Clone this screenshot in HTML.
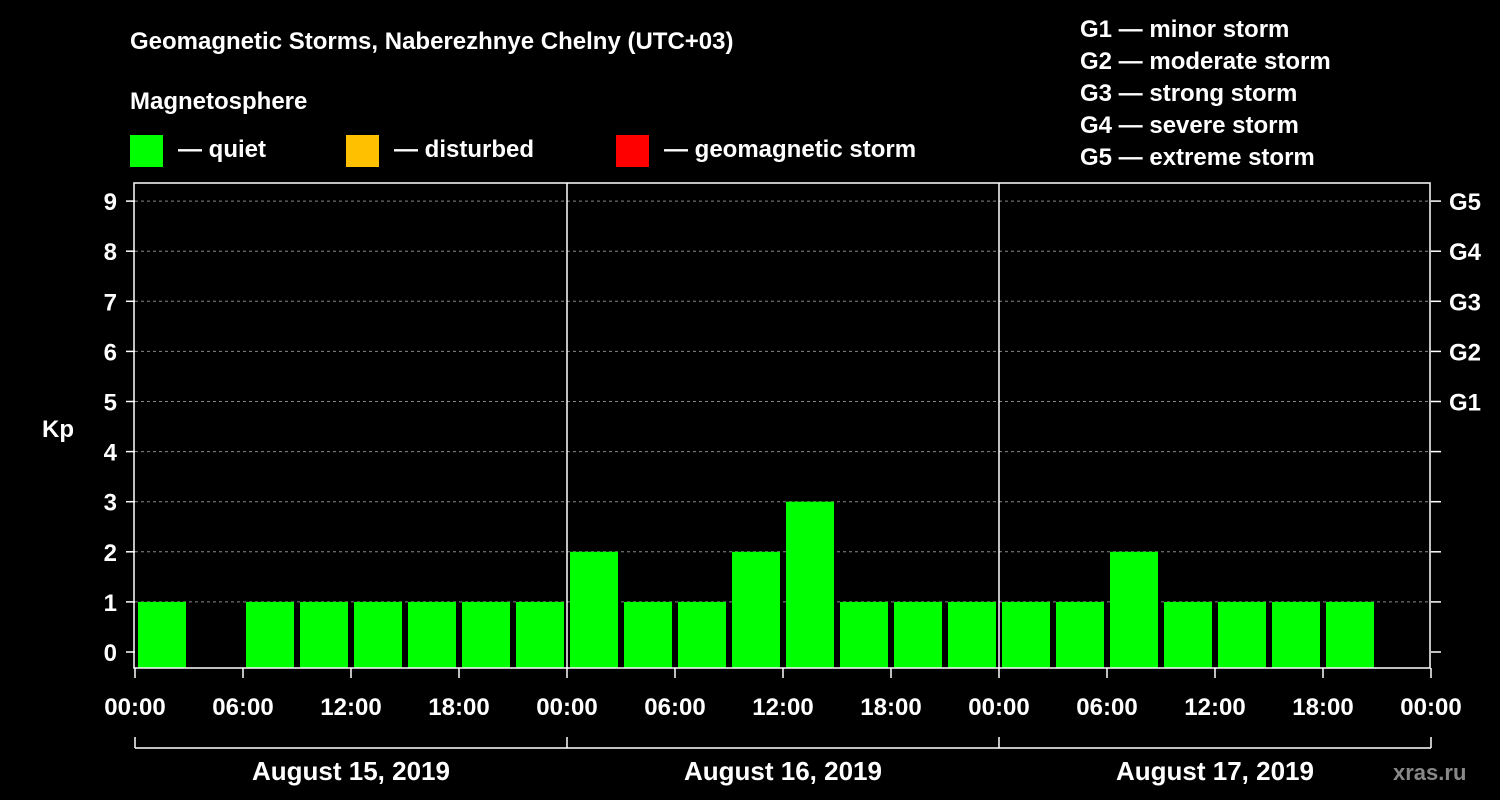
<!DOCTYPE html>
<html><head><meta charset="utf-8"><style>
body{margin:0;background:#000;width:1500px;height:800px;overflow:hidden}
svg{display:block;font-family:"Liberation Sans",Arial,sans-serif;font-weight:bold}
</style></head><body>
<svg width="1500" height="800">
<g id="hdr" fill="#fff" font-size="24">
<text x="130" y="49">Geomagnetic Storms, Naberezhnye Chelny (UTC+03)</text>
<text x="130" y="109">Magnetosphere</text>
<rect x="130" y="135" width="33" height="32" fill="#00ff00"/>
<text x="178" y="157">— quiet</text>
<rect x="346" y="135" width="33" height="32" fill="#ffc000"/>
<text x="394" y="157">— disturbed</text>
<rect x="616" y="135" width="33" height="32" fill="#ff0000"/>
<text x="664" y="157">— geomagnetic storm</text>
<text x="1080" y="37">G1 — minor storm</text>
<text x="1080" y="69">G2 — moderate storm</text>
<text x="1080" y="101">G3 — strong storm</text>
<text x="1080" y="133">G4 — severe storm</text>
<text x="1080" y="165">G5 — extreme storm</text>
<text x="42" y="437">Kp</text>
<text x="1393" y="780" font-size="22" fill="#888">xras.ru</text>
</g>
<g id="plot"></g>
</svg>
<script>
const kpValues=[1,null,1,1,1,1,1,1, 2,1,1,2,3,1,1,1, 1,1,2,1,1,1,1,null];
const yTicks=[0,1,2,3,4,5,6,7,8,9];
const gLabels=["","","","","","G1","G2","G3","G4","G5"];
const xTickLabels=["00:00","06:00","12:00","18:00","00:00","06:00","12:00","18:00","00:00","06:00","12:00","18:00","00:00"];
const dayLabels=["August 15, 2019","August 16, 2019","August 17, 2019"];
const X0=135,X1=1431,TOP=183,BOT=668;
const NS="http://www.w3.org/2000/svg";
const g=document.getElementById('plot');
function y(v){return 652-v*50.1;}
function xs(i){return X0+(X1-X0)*i/kpValues.length;}
function mk(t,a,txt){const e=document.createElementNS(NS,t);for(const k in a)e.setAttribute(k,a[k]);if(txt!==undefined)e.textContent=txt;g.appendChild(e);return e;}
yTicks.forEach((v,i)=>{
 if(v>0){const l=mk('line',{x1:X0,x2:X1,y1:y(v),y2:y(v),stroke:'#888','stroke-dasharray':'3,3'});
 
 }
 mk('line',{x1:126,x2:X0,y1:y(v),y2:y(v),stroke:'#fff','stroke-width':1.5});
 mk('line',{x1:X1,x2:1441,y1:y(v),y2:y(v),stroke:'#fff','stroke-width':1.5});
 const t=mk('text',{x:117,y:y(v)+9,fill:'#fff','font-size':24,'text-anchor':'end'},v);
 
 
 if(gLabels[i]){const gt=mk('text',{x:1449,y:y(v)+9,fill:'#fff','font-size':24},gLabels[i]);
 
 }
});
kpValues.forEach((v,i)=>{
 if(v===null)return;
 const c=v>=5?'#ff0000':(v>=4?'#ffc000':'#00ff00');
 const r=mk('rect',{x:xs(i)+3,y:y(v),width:xs(i+1)-xs(i)-6,height:BOT-y(v),fill:c});
 
 
});
mk('rect',{x:X0-1,y:TOP,width:X1-X0+0,height:BOT-TOP,fill:'none',stroke:'#fff','stroke-width':1.5});
for(let d=1;d<dayLabels.length;d++){const xx=X0+(X1-X0)*d/dayLabels.length;mk('line',{x1:xx,x2:xx,y1:TOP,y2:BOT,stroke:'#fff','stroke-width':1.5});}
xTickLabels.forEach((s,i)=>{
 const xx=X0+(X1-X0)*i/(xTickLabels.length-1);
 mk('line',{x1:xx,x2:xx,y1:BOT,y2:678,stroke:'#fff','stroke-width':1.5});
 const t=mk('text',{x:xx,y:715,fill:'#fff','font-size':24,'text-anchor':'middle'},s);
 
 
});
mk('line',{x1:X0,x2:X1,y1:748,y2:748,stroke:'#fff','stroke-width':1.5});
for(let d=0;d<=dayLabels.length;d++){const xx=X0+(X1-X0)*d/dayLabels.length;mk('line',{x1:xx,x2:xx,y1:737,y2:748,stroke:'#fff','stroke-width':1.5});}
dayLabels.forEach((s,d)=>{
 const xx=X0+(X1-X0)*(d+0.5)/dayLabels.length;
 const t=mk('text',{x:xx,y:780,fill:'#fff','font-size':26,'text-anchor':'middle'},s);
 
 
});
</script>
</body></html>
